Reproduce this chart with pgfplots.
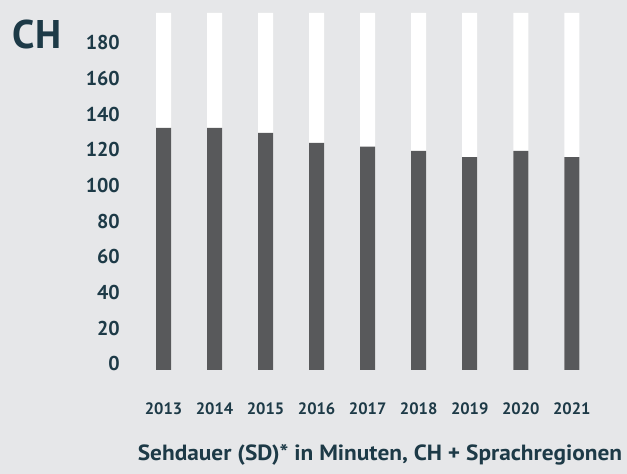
\documentclass[border=0pt]{standalone}
\usepackage{pgfplots}
\pgfplotsset{compat=1.18}
\usepackage{fontspec}
\setmainfont{PT Sans}
\newfontfamily\widefont[FakeStretch=1.06]{PT Sans}
\definecolor{bg}{HTML}{E6E7E9}
\definecolor{bardark}{HTML}{58595B}
\definecolor{txt}{HTML}{1D3A47}
\begin{document}
\begin{tikzpicture}[x=1pt,y=1pt]
\path[use as bounding box, fill=bg] (0,0) rectangle (627,474);
\begin{axis}[
  at={(138pt,104pt)}, anchor=south west,
  scale only axis, width=459.3pt, height=357pt,
  xmin=-0.5, xmax=8.5, ymin=0, ymax=200,
  enlargelimits=false,
  axis line style={draw=none},
  major tick length=0pt,
  xtick={0,...,8},
  xticklabels={2013,2014,2015,2016,2017,2018,2019,2020,2021},
  ytick={0,20,...,180},
  /pgf/number format/assume math mode=true,
  xticklabel style={anchor=center, inner sep=0pt, yshift=-39pt, text=txt, font=\fontsize{16.5}{18}\selectfont\bfseries},
  yticklabel style={anchor=east, inner sep=0pt, xshift=-18pt, yshift=6pt, text=txt, font=\fontsize{20}{24}\selectfont\bfseries},
  ybar, bar width=15pt, bar shift=0pt,
  clip=false,
]
\addplot[fill=white, draw=none] coordinates {(0,200) (1,200) (2,200) (3,200) (4,200) (5,200) (6,200) (7,200) (8,200)};
\addplot[fill=bardark, draw=none] coordinates {(0,135.7) (1,135.7) (2,132.9) (3,127.3) (4,125.1) (5,122.7) (6,119.2) (7,122.7) (8,119.2)};
\end{axis}
\node[text=txt, font=\fontsize{40}{42}\selectfont\bfseries] at (37,439) {CH};
\node[text=txt, font=\widefont\fontsize{22}{24}\selectfont\bfseries] at (380,19) {Sehdauer (SD)* in Minuten, CH + Sprachregionen};
\end{tikzpicture}
\end{document}
